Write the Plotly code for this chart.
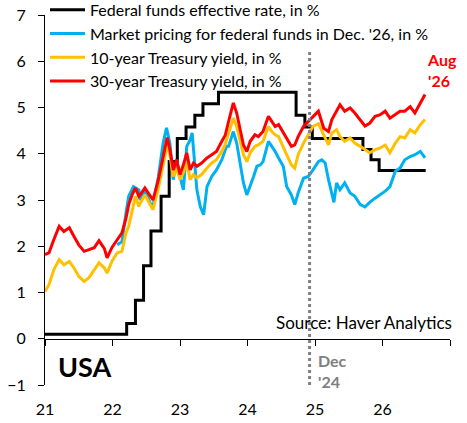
import plotly.graph_objects as go

# Federal funds effective rate (step changes), decimal years
ff_t = [2021.00, 2022.21, 2022.34, 2022.46, 2022.57, 2022.72, 2022.84, 2022.96,
        2023.09, 2023.22, 2023.34, 2023.57, 2024.72, 2024.85, 2024.96,
        2025.71, 2025.83, 2025.95, 2026.64]
ff_v = [0.10, 0.33, 0.83, 1.58, 2.33, 3.08, 3.83, 4.33,
        4.58, 4.83, 5.08, 5.33, 4.83, 4.58, 4.33,
        4.09, 3.87, 3.64, 3.64]

# Treasury yields
ty_t = [2021.00, 2021.06, 2021.13, 2021.21, 2021.28, 2021.36, 2021.43, 2021.50,
        2021.58, 2021.65, 2021.73, 2021.80, 2021.88, 2021.92, 2021.99, 2022.07,
        2022.14, 2022.20, 2022.24, 2022.29, 2022.34, 2022.39,
        2022.41, 2022.48, 2022.56, 2022.60, 2022.68, 2022.75, 2022.81, 2022.85,
        2022.90, 2022.95, 2023.00, 2023.05, 2023.10, 2023.15, 2023.20, 2023.25,
        2023.32, 2023.40, 2023.47, 2023.54, 2023.62,
        2023.67, 2023.72, 2023.79, 2023.84, 2023.89, 2023.94, 2023.99, 2024.04,
        2024.11, 2024.16, 2024.23, 2024.31, 2024.36, 2024.41, 2024.46, 2024.53,
        2024.58, 2024.65, 2024.70, 2024.75, 2024.83, 2024.90, 2024.97,
        2025.05, 2025.13, 2025.20, 2025.25, 2025.32, 2025.37, 2025.44, 2025.52,
        2025.59, 2025.67, 2025.74, 2025.81, 2025.89, 2025.96, 2026.04, 2026.11,
        2026.19, 2026.26, 2026.33, 2026.41, 2026.48, 2026.56, 2026.63]
y10 = [1.02, 1.17, 1.49, 1.71, 1.60, 1.67, 1.53, 1.35,
       1.24, 1.32, 1.49, 1.64, 1.53, 1.42, 1.67, 1.86,
       1.89, 2.29, 2.43, 2.79, 3.08, 2.86,
       2.93, 3.11, 2.90, 2.79, 3.26, 3.80, 4.19, 3.98,
       3.51, 3.69, 3.44, 3.59, 3.83, 3.44, 3.55, 3.48,
       3.55, 3.69, 3.80, 3.87, 4.05,
       4.20, 4.45, 4.77, 4.59, 4.27, 3.98, 3.83, 4.02,
       4.16, 4.19, 4.27, 4.59, 4.48, 4.41, 4.37, 4.16,
       3.98, 3.76, 3.69, 3.98, 4.23, 4.41, 4.59,
       4.65, 4.40, 4.19, 4.45, 4.52, 4.37, 4.27, 4.34,
       4.23, 4.16, 4.09, 4.02, 4.09, 4.12, 4.19, 4.02,
       4.23, 4.37, 4.34, 4.52, 4.45, 4.63, 4.74]
y30 = [1.82, 1.86, 2.14, 2.43, 2.32, 2.40, 2.21, 2.03,
       1.89, 1.92, 1.97, 2.12, 1.95, 1.75, 1.97, 2.14,
       2.29, 2.61, 2.90, 3.11, 3.26, 3.08,
       3.11, 3.26, 3.08, 3.00, 3.44, 3.94, 4.35, 4.09,
       3.65, 3.87, 3.55, 3.76, 4.02, 3.65, 3.80, 3.73,
       3.80, 3.91, 3.98, 4.05, 4.27,
       4.40, 4.70, 5.10, 4.88, 4.52, 4.19, 4.05, 4.27,
       4.41, 4.37, 4.48, 4.81, 4.70, 4.59, 4.63, 4.45,
       4.35, 4.16, 4.19, 4.37, 4.59, 4.70, 4.81,
       4.92, 4.55, 4.48, 4.74, 4.92, 5.06, 4.92, 4.99,
       4.88, 4.74, 4.60, 4.66, 4.81, 4.84, 4.92, 4.77,
       4.84, 4.92, 4.92, 5.02, 4.88, 5.10, 5.28]

# Market pricing for federal funds in Dec. '26
mp_t = [2022.07, 2022.14, 2022.20, 2022.24, 2022.31, 2022.39, 2022.41, 2022.48,
        2022.56, 2022.60, 2022.68, 2022.75, 2022.80, 2022.85, 2022.90, 2022.95,
        2023.00, 2023.05, 2023.10, 2023.15, 2023.18, 2023.25, 2023.30, 2023.35,
        2023.40, 2023.47, 2023.54, 2023.62, 2023.69, 2023.72, 2023.79, 2023.84,
        2023.89, 2023.94, 2023.99, 2024.04, 2024.09, 2024.14, 2024.19, 2024.23,
        2024.31, 2024.36, 2024.41, 2024.46, 2024.53, 2024.58, 2024.65, 2024.70,
        2024.75, 2024.83, 2024.90, 2024.97, 2025.05, 2025.10, 2025.15, 2025.20,
        2025.28, 2025.32, 2025.37, 2025.44, 2025.52, 2025.59, 2025.67, 2025.74,
        2025.81, 2025.89, 2025.96, 2026.04, 2026.11, 2026.19, 2026.26, 2026.33,
        2026.41, 2026.48, 2026.56, 2026.63]
mp_v = [2.03, 2.10, 2.72, 3.08, 3.29, 3.22, 3.00, 3.22,
        2.93, 2.86, 3.51, 4.23, 4.56, 4.23, 3.44, 3.87,
        3.51, 3.22, 4.16, 4.30, 4.45, 3.22, 2.86, 2.68,
        3.29, 3.51, 3.65, 3.87, 4.16, 4.16, 4.48, 4.23,
        3.80, 3.37, 3.11, 3.29, 3.51, 3.73, 3.76, 3.83,
        4.27, 4.16, 4.05, 3.91, 3.73, 3.29, 3.11, 2.90,
        3.15, 3.47, 3.51, 3.65, 3.83, 3.87, 3.80, 3.44,
        2.95, 3.37, 3.22, 3.37, 3.15, 3.08, 2.90, 2.85,
        2.95, 3.04, 3.11, 3.19, 3.29, 3.62, 3.69, 3.87,
        3.94, 3.98, 4.05, 3.91]

year_ticks = [2021, 2022, 2023, 2024, 2025, 2026]
year_labels = ["21", "22", "23", "24", "25", "26"]
dec24 = 2024.92

FONT = "Lato"

fig = go.Figure()
fig.add_trace(go.Scatter(x=ff_t, y=ff_v, mode="lines", line_shape="hv",
                         line=dict(color="black", width=3),
                         name="Federal funds effective rate, in %"))
fig.add_trace(go.Scatter(x=mp_t, y=mp_v, mode="lines",
                         line=dict(color="#00B0F0", width=3),
                         name="Market pricing for federal funds in Dec. '26, in %"))
fig.add_trace(go.Scatter(x=ty_t, y=y10, mode="lines",
                         line=dict(color="#FFC000", width=3),
                         name="10-year Treasury yield, in %"))
fig.add_trace(go.Scatter(x=ty_t, y=y30, mode="lines",
                         line=dict(color="#FF0000", width=3),
                         name="30-year Treasury yield, in %"))
# empty trace so the zero-line axis gets drawn
fig.add_trace(go.Scatter(x=[None], y=[None], xaxis="x2", showlegend=False,
                         mode="lines", hoverinfo="skip"))

fig.add_shape(type="line", x0=dec24, x1=dec24, y0=-1, y1=6.25, xref="x", yref="y",
              line=dict(color="#808080", width=3, dash="dot"))

fig.add_annotation(text="Aug<br>'26", x=0.938, y=0.851, xref="paper", yref="paper",
                   xanchor="left", yanchor="middle", align="left", showarrow=False,
                   font=dict(family=FONT, size=16, color="#FF0000", weight="bold"))
fig.add_annotation(text="Dec<br>'24", x=0.670, y=0.037, xref="paper", yref="paper",
                   xanchor="left", yanchor="middle", align="left", showarrow=False,
                   font=dict(family=FONT, size=16, color="#808080", weight="bold"))
fig.add_annotation(text="USA", x=0.028, y=0.049, xref="paper", yref="paper",
                   xanchor="left", yanchor="middle", showarrow=False,
                   font=dict(family=FONT, size=27, color="black", weight="bold"))
fig.add_annotation(text="Source: Haver Analytics", x=1.01, y=0.170, xref="paper", yref="paper",
                   xanchor="right", yanchor="middle", showarrow=False,
                   font=dict(family=FONT, size=17, color="black"))

fig.update_layout(
    width=467, height=423,
    margin=dict(l=45, r=17, t=15, b=38, autoexpand=False),
    paper_bgcolor="white", plot_bgcolor="white",
    font=dict(family=FONT, size=16, color="black"),
    hovermode=False,
    legend=dict(x=0.0, y=1.06, xanchor="left", yanchor="top", itemwidth=35,
                bgcolor="rgba(0,0,0,0)", font=dict(size=16)),
    xaxis=dict(range=[2021, 2027], tickvals=year_ticks, ticktext=year_labels,
               showgrid=False, zeroline=False, showline=False, ticks="",
               ticklabelstandoff=13),
    xaxis2=dict(range=[2021, 2027], overlaying="x", anchor="free", position=0.125,
                side="bottom", tickvals=year_ticks + [2027], showticklabels=False,
                showgrid=False, zeroline=False, showline=True, linecolor="black",
                linewidth=1, ticks="outside", ticklen=6, tickcolor="black"),
    yaxis=dict(range=[-1, 7], dtick=1, showgrid=False, zeroline=False,
               showline=True, linecolor="black", linewidth=1,
               ticks="outside", ticklen=6, tickcolor="black",
               ticklabelstandoff=9),
)

fig.write_html("out.html", config={"displayModeBar": False},
               post_script="document.body.style.margin='0px';")
